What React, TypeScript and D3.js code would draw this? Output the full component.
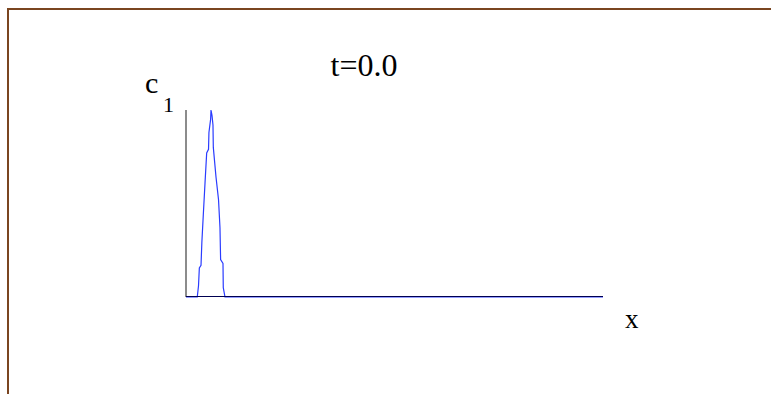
import React from "react";
import * as d3 from "d3";

const title = "t=0.0";
const xLabel = "x";
const yLabel = "c";
const ySub = "1";

// c1 profile at t=0 (x in [0,1], c1 normalized)
const xs = [0, 0.027, 0.030, 0.032, 0.036, 0.038, 0.0415, 0.0456, 0.0496, 0.054, 0.055, 0.059, 0.060, 0.0624, 0.0647, 0.0655, 0.072, 0.078, 0.0815, 0.083, 0.0887, 0.0894, 0.0935, 0.2, 0.4, 0.6, 0.8, 1];
const cs = [0, 0, 0.06, 0.155, 0.17, 0.29, 0.44, 0.61, 0.77, 0.79, 0.88, 0.95, 1.0, 0.97, 0.92, 0.80, 0.64, 0.52, 0.37, 0.20, 0.18, 0.05, 0, 0, 0, 0, 0, 0];

const W = 771;
const H = 394;

export default function App() {
  const x = d3.scaleLinear().domain([0, 1]).range([186, 603]);
  const y = d3.scaleLinear().domain([0, 1]).range([297, 110]);
  const pts: [number, number][] = xs.map((v, i) => [v, cs[i]]);
  const line = d3
    .line<[number, number]>()
    .x((d) => x(d[0]))
    .y((d) => y(d[1]));

  return (
    <svg
      width={W}
      height={H}
      style={{ position: "absolute", left: 0, top: 0, background: "#fff" }}
      fontFamily="'Liberation Serif', 'Times New Roman', serif"
    >
      <rect x={0} y={0} width={W} height={H} fill="#fff" />
      {/* frame */}
      <line x1={7} y1={9} x2={W} y2={9} stroke="#7a4520" strokeWidth={2} />
      <line x1={8} y1={8} x2={8} y2={H} stroke="#7a4520" strokeWidth={2} />
      {/* y axis */}
      <line x1={x(0)} y1={y(0)} x2={x(0)} y2={y(1)} stroke="#666" strokeWidth={1.5} />
      {/* curve */}
      <path d={line(pts) || ""} fill="none" stroke="#2a3cff" strokeWidth={1.2} />
      {/* x axis */}
      <line x1={x(0)} y1={y(0) - 0.5} x2={x(1)} y2={y(0) - 0.5} stroke="#000050" strokeWidth={1.2} />
      <text x={364} y={76} fontSize={32} textAnchor="middle" fill="#000">
        {title}
      </text>
      <text x={145} y={93} fontSize={30} fill="#000">
        {yLabel}
      </text>
      <text x={163} y={112} fontSize={22} fill="#000">
        {ySub}
      </text>
      <text x={625} y={328} fontSize={27} fill="#000">
        {xLabel}
      </text>
    </svg>
  );
}
